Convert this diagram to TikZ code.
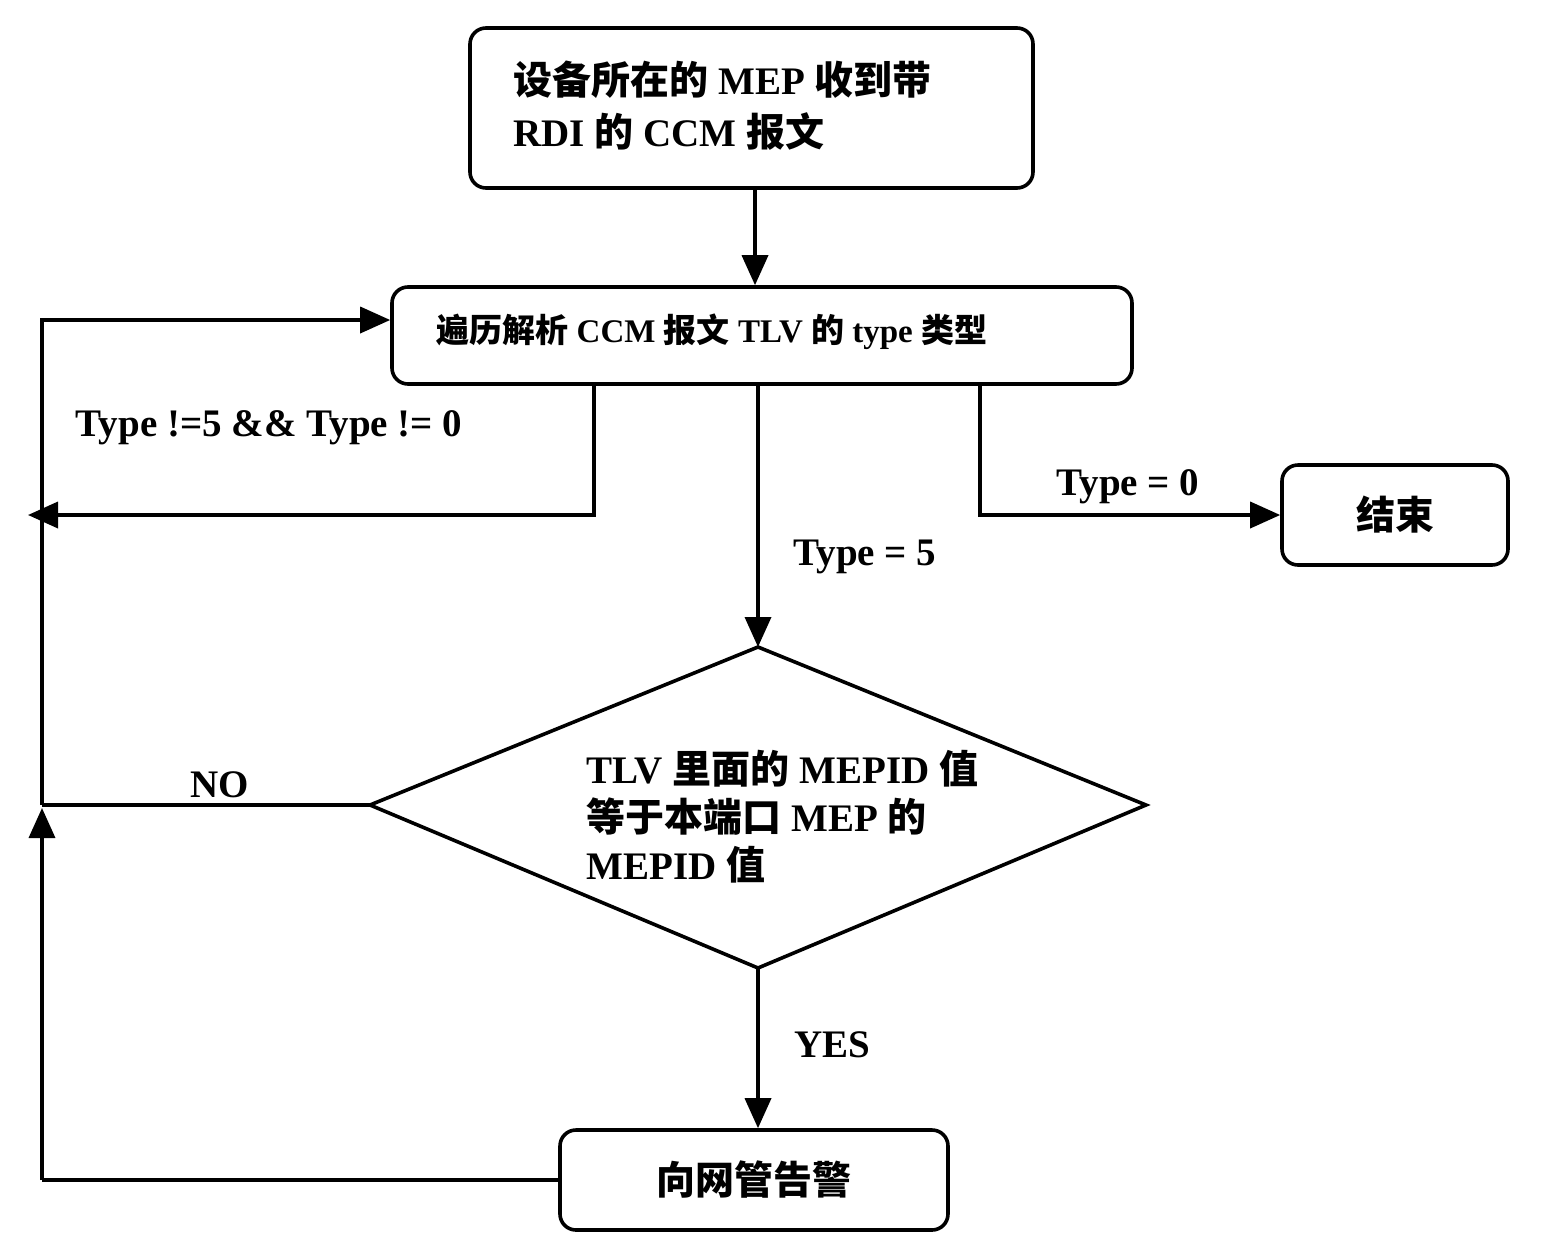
\documentclass[tikz,border=0pt]{standalone}
\usepackage{fontspec}
\setmainfont{Liberation Serif}
\newfontfamily\cjk{Noto Sans CJK SC}
\usetikzlibrary{arrows.meta}
\begin{document}
\begin{tikzpicture}[x=0.5pt,y=-0.5pt,
  line width=1.8pt,
  arr/.style={-{Triangle[length=15pt,width=13pt]}},
  box/.style={draw,rounded corners=8pt,inner sep=0pt},
  lbl/.style={font=\bfseries\fontsize{19.5}{22}\selectfont}]
\useasboundingbox (0,0) rectangle (1541,1258);
\node[box,minimum width=281.5pt,minimum height=80pt] (start) at (751.5,108) {};
\node[lbl,align=left,anchor=north west] (starttxt) at (505,52) {{\cjk 设备所在的} MEP {\cjk 收到带}\\[4pt]RDI {\cjk 的} CCM {\cjk 报文}};
\node[box,minimum width=370pt,minimum height=48.5pt] (parse) at (762,335.5) {};
\node[font=\bfseries\fontsize{16.5}{19}\selectfont,anchor=west] (parsetxt) at (428,332) {{\cjk 遍历解析} CCM {\cjk 报文} TLV {\cjk 的} type {\cjk 类型}};
\node[box,minimum width=113pt,minimum height=50pt,lbl] (end) at (1395,515) {\cjk 结束};
\coordinate (dl) at (370,805); \coordinate (dt) at (758,647);
\coordinate (dr) at (1146,805); \coordinate (db) at (758,968);
\draw (dl) -- (dt) -- (dr) -- (db) -- cycle;
\node[lbl,align=left,anchor=north west] (dtxt) at (578,742) {TLV {\cjk 里面的} MEPID {\cjk 值}\\[2pt]{\cjk 等于本端口} MEP {\cjk 的}\\[2pt]MEPID {\cjk 值}};
\node[box,minimum width=194pt,minimum height=50pt,lbl] (alarm) at (754,1180) {\cjk 向网管告警};
\coordinate (cL) at (42,1180);
\coordinate (cT) at (42,320);
\coordinate (cM) at (42,805);
\draw[arr] (start.south -| 755,0) -- (parse.north -| 755,0);
\draw (alarm.west) -- (cL);
\draw[arr] (cL) -- (42,808);
\draw (dl) -- (cM);
\draw[arr] (cM) -- (cT) -- (parse.west |- cT);
\draw[arr] (594,384) -- (594,515) -- (28,515);
\draw[arr] (980,384) -- (980,515) -- (end.west);
\draw[arr] (758,384) -- (dt);
\draw[arr] (db) -- (alarm.north -| db);
\node[lbl] (l1) at (269,428) {Type !=5 \&\& Type != 0};
\node[lbl] (l2) at (1128,487) {Type = 0};
\node[lbl] (l3) at (865,557) {Type = 5};
\node[lbl] (l4) at (220,785) {NO};
\node[lbl] (l5) at (832,1045) {YES};
\end{tikzpicture}
\end{document}
